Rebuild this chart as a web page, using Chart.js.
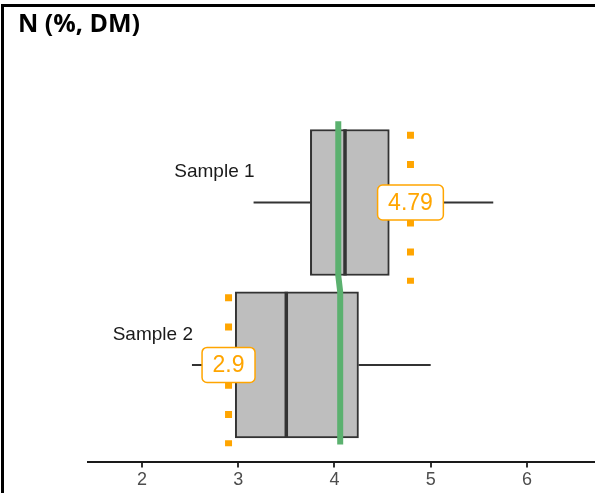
<!DOCTYPE html>
<html>
<head>
<meta charset="utf-8">
<script src="https://cdn.jsdelivr.net/npm/chart.js@4.4.1/dist/chart.umd.min.js"></script>
<style>
  html, body { margin: 0; padding: 0; background: #ffffff; }
  #wrap { width: 595px; height: 493px; }
</style>
</head>
<body>
<div id="wrap"><canvas id="chart" width="595" height="493"></canvas></div>
<script>
// Box-plot summary for each sample (N, % of dry matter)
const categories   = ['Sample 1', 'Sample 2'];
const positions    = [1, 2];
const whiskerLow   = [3.16, 2.52];
const q1           = [3.75, 2.97];
const median       = [4.11, 3.50];
const q3           = [4.57, 4.25];
const whiskerHigh  = [5.65, 5.00];
// Individual result marked for each sample
const markValues   = [4.79, 2.9];
// Reference line running across both boxes
const refLineX     = [4.04, 4.04, 4.06, 4.06];
const refLineY     = [0.5, 1.45, 1.55, 2.49];
const xTicks       = [2, 3, 4, 5, 6];

const HALF = 0.45;      // half box height in category units
const ORANGE = '#FFA500';
const GREEN = '#5BB16F';
const DARK = '#333333';

const datasets = [];

// dotted marker lines for each sample's own result
positions.forEach((p, i) => {
  datasets.push({
    type: 'line', order: 1,
    data: [{ x: markValues[i], y: p - HALF + 0.015 }, { x: markValues[i], y: p + HALF + 0.05 }],
    borderColor: ORANGE, borderWidth: 7, borderDash: [7, 22.2], borderCapStyle: 'butt',
    pointRadius: 0, fill: false
  });
});

// reference line
datasets.push({
  type: 'line', order: 2,
  data: refLineX.map((x, i) => ({ x, y: refLineY[i] })),
  borderColor: GREEN, borderWidth: 6, pointRadius: 0, fill: false, tension: 0
});

// medians
positions.forEach((p, i) => {
  datasets.push({
    type: 'line', order: 3,
    data: [{ x: median[i], y: p - HALF }, { x: median[i], y: p + HALF }],
    borderColor: DARK, borderWidth: 3.5, pointRadius: 0, fill: false
  });
});

// whiskers
positions.forEach((p, i) => {
  datasets.push({
    type: 'line', order: 4,
    data: [{ x: whiskerLow[i], y: p }, { x: q1[i], y: p }],
    borderColor: DARK, borderWidth: 2, pointRadius: 0, fill: false
  });
  datasets.push({
    type: 'line', order: 4,
    data: [{ x: q3[i], y: p }, { x: whiskerHigh[i], y: p }],
    borderColor: DARK, borderWidth: 2, pointRadius: 0, fill: false
  });
});

// boxes (interquartile range)
datasets.push({
  type: 'bar', order: 5, indexAxis: 'y',
  data: positions.map((p, i) => ({ x: [q1[i], q3[i]], y: p })),
  backgroundColor: '#BEBEBE', borderColor: DARK, borderWidth: 2, borderSkipped: false,
  barThickness: 146
});

const decorPlugin = {
  id: 'decor',
  beforeDraw(chart) {
    const ctx = chart.ctx;
    ctx.save();
    ctx.fillStyle = '#ffffff';
    ctx.fillRect(0, 0, chart.width, chart.height);
    ctx.fillStyle = '#000000';
    ctx.fillRect(1, 4, 3, chart.height - 4);
    ctx.fillRect(1, 4, chart.width - 1, 3);
    ctx.restore();
  },
  afterDatasetsDraw(chart) {
    const ctx = chart.ctx;
    const xs = chart.scales.x, ys = chart.scales.y;
    ctx.save();
    // category names, above-left of each lower whisker
    ctx.font = '19px "Liberation Sans", Arial, sans-serif';
    ctx.fillStyle = '#1a1a1a';
    ctx.textAlign = 'right';
    ctx.textBaseline = 'alphabetic';
    positions.forEach((p, i) => {
      ctx.fillText(categories[i], xs.getPixelForValue(whiskerLow[i]) + 1, ys.getPixelForValue(p) - 25);
    });
    // value tags for each sample's own result
    ctx.font = '23px "Liberation Sans", Arial, sans-serif';
    ctx.textAlign = 'center';
    ctx.textBaseline = 'middle';
    positions.forEach((p, i) => {
      const txt = String(markValues[i]);
      const cx = xs.getPixelForValue(markValues[i]);
      const cy = ys.getPixelForValue(p);
      const w = ctx.measureText(txt).width + 21;
      const h = 35;
      ctx.beginPath();
      ctx.roundRect(cx - w / 2, cy - h / 2, w, h, 5);
      ctx.fillStyle = '#ffffff';
      ctx.fill();
      ctx.lineWidth = 1.5;
      ctx.strokeStyle = ORANGE;
      ctx.stroke();
      ctx.fillStyle = ORANGE;
      ctx.fillText(txt, cx, cy + 1);
    });
    ctx.restore();
  },
  afterDraw(chart) {
    const ctx = chart.ctx;
    ctx.save();
    ctx.font = 'bold 25px "Open Sans", sans-serif';
    ctx.fillStyle = '#000000';
    ctx.textAlign = 'left';
    ctx.textBaseline = 'alphabetic';
    ctx.fillText('N (%, DM)', 18, 32);
    ctx.restore();
  }
};

new Chart(document.getElementById('chart'), {
  type: 'bar',
  data: { datasets },
  plugins: [decorPlugin],
  options: {
    responsive: false,
    animation: false,
    indexAxis: 'y',
    layout: { padding: { left: 88, right: 0, top: 40, bottom: 0 } },
    plugins: { legend: { display: false }, tooltip: { enabled: false }, title: { display: false } },
    scales: {
      x: {
        type: 'linear', position: 'bottom', min: 1.44, max: 6.707,
        afterBuildTicks(axis) { axis.ticks = xTicks.map(v => ({ value: v })); },
        grid: { drawOnChartArea: false, drawTicks: true, tickLength: 5, color: '#333333', lineWidth: 2 },
        border: { display: true, color: '#1a1a1a', width: 2 },
        ticks: { color: '#4d4d4d', font: { family: '"Liberation Sans", Arial, sans-serif', size: 18 }, padding: 2, maxRotation: 0 }
      },
      y: {
        type: 'linear', display: false, reverse: true, min: 0, max: 2.6, offset: false,
        grid: { display: false }
      }
    }
  }
});
</script>
</body>
</html>
